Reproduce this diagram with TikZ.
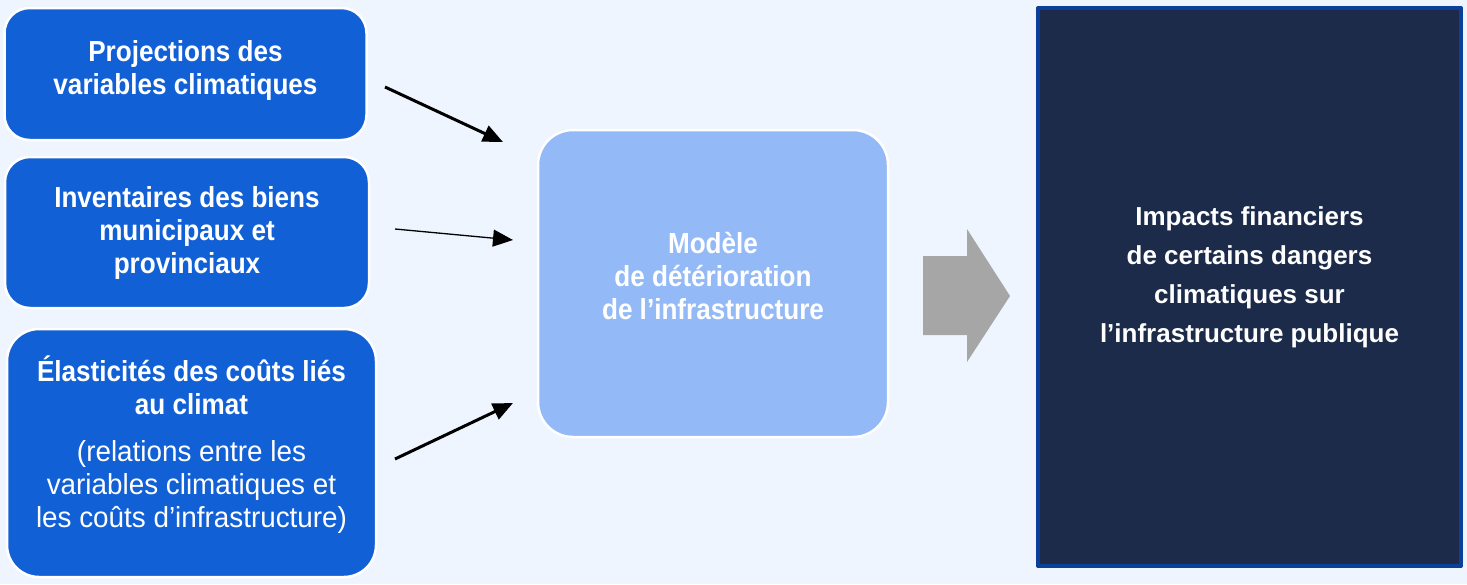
\documentclass[tikz,border=0pt]{standalone}
\usepackage{fontspec}
\setmainfont{Liberation Sans}
\newfontfamily\narrowfont{Liberation Sans}[FakeStretch=0.9]
\newfontfamily\narrowregfont{Liberation Sans}[FakeStretch=0.96]
\newcommand{\maigre}{\narrowregfont\mdseries}
\usetikzlibrary{arrows.meta}
\definecolor{fond}{HTML}{EEF5FE}
\definecolor{bleu}{HTML}{1160D6}
\definecolor{bleuclair}{HTML}{93BAF6}
\definecolor{marine}{HTML}{1C2B4A}
\definecolor{bordmarine}{HTML}{0A4099}
\definecolor{gris}{HTML}{A6A6A6}
\begin{document}
\begin{tikzpicture}[x=1pt,y=-1pt,>={Triangle[length=20pt,width=17pt]},line join=round,
	boite/.style={fill=bleu,draw=white,line width=2.5pt,inner sep=0pt,rounded corners=25pt},
	texte/.style={text=white,align=center,inner sep=0pt,font=\narrowfont\bfseries\fontsize{29}{33}\selectfont},
	fleche/.style={->,line width=3pt}]
		\fill[fond] (0,0) rectangle (1467,584);
		% boites de gauche
		\node[boite,minimum width=362pt,minimum height=132pt] (proj) at (185.5,74) {};
		\node[texte] (projtxt) at ([yshift=4pt]proj.center) {Projections des\\variables climatiques};
		\node[boite,minimum width=364pt,minimum height=151pt] (inv) at (187,232.5) {};
		\node[texte] (invtxt) at (inv.center) {Inventaires des biens\\municipaux et\\provinciaux};
		\node[boite,rounded corners=32pt,minimum width=369pt,minimum height=248pt] (elast) at (191.5,453) {};
		\node[texte] (elasttxt) at ([yshift=8pt]elast.center) {Élasticités des coûts liés\\au climat\\[14pt]\maigre(relations entre les\\\maigre variables climatiques et\\\maigre les coûts d’infrastructure)};
		% modele
		\node[boite,fill=bleuclair,rounded corners=35pt,minimum width=350pt,minimum height=307pt] (modele) at (713,283.5) {};
		\node[texte] (modeletxt) at ([yshift=7.5pt]modele.center) {Modèle\\de détérioration\\de l’infrastructure};
		% impacts
		\node[fill=marine,draw=bordmarine,line width=4pt,inner sep=0pt,minimum width=423pt,minimum height=558pt] (impacts) at (1249.5,287) {};
		\node[text=white,align=center,inner sep=0pt,font=\bfseries\fontsize{26}{39}\selectfont] (impactstxt) at ([yshift=10pt]impacts.center) {Impacts financiers\\de certains dangers\\climatiques sur\\l’infrastructure publique};
		% fleches
		\coordinate (d1) at (385,87);
		\coordinate (f1) at (503,142);
		\coordinate (d2) at (395,229);
		\coordinate (f2) at (513,240);
		\coordinate (d3) at (395,459);
		\coordinate (f3) at (513,403);
		\draw[fleche] (d1)--(f1);
		\draw[fleche,line width=1.3pt] (d2)--(f2);
		\draw[fleche] (d3)--(f3);
		\fill[gris] (923,256)--(967,256)--(967,229)--(1010,296)--(967,362)--(967,335)--(923,335)--cycle;
\end{tikzpicture}
\end{document}
